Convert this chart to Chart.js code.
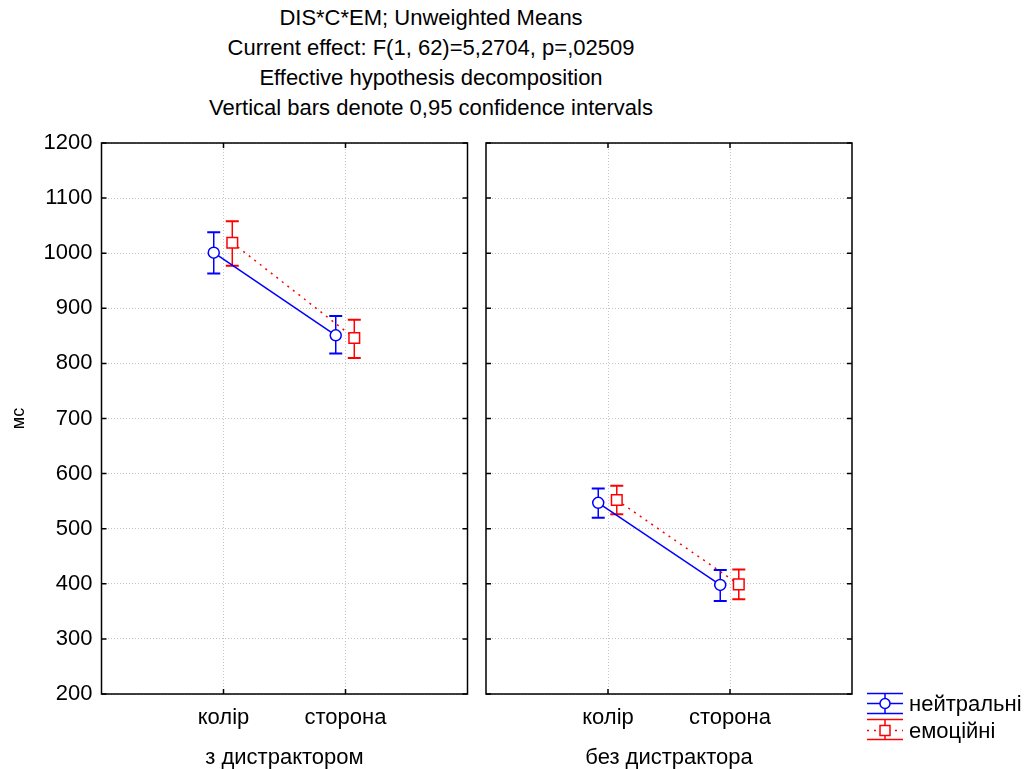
<!DOCTYPE html>
<html>
<head>
<meta charset="utf-8">
<script src="https://cdn.jsdelivr.net/npm/chart.js@4"></script>
<style>
  html, body { margin: 0; padding: 0; background: #fff; }
  #wrap { position: relative; width: 1025px; height: 769px; overflow: hidden;
          font-family: "Liberation Sans", Arial, sans-serif; color: #000; }
  canvas { position: absolute; top: 0; }
  #chartLeft { left: 0; }
  #chartRight { left: 476px; }
  #title { position: absolute; left: 0; top: 3px; width: 862px; text-align: center;
           font-size: 22px; line-height: 30px; }
  #legendSym { position: absolute; left: 862px; top: 688px; }
  .legText { position: absolute; left: 909px; font-size: 22px; line-height: 26px; white-space: nowrap; }
</style>
</head>
<body>
<div id="wrap">
  <div id="title">
    DIS*C*EM; Unweighted Means<br>
    Current effect: F(1, 62)=5,2704, p=,02509<br>
    Effective hypothesis decomposition<br>
    Vertical bars denote 0,95 confidence intervals
  </div>
  <canvas id="chartLeft" width="480" height="769"></canvas>
  <canvas id="chartRight" width="392" height="769"></canvas>
  <svg id="legendSym" width="46" height="60">
    <g stroke="#0000ff" stroke-width="1.5" fill="none">
      <line x1="5" y1="5.5" x2="41" y2="5.5"/>
      <line x1="5" y1="15.5" x2="41" y2="15.5"/>
      <line x1="5" y1="25.5" x2="41" y2="25.5"/>
      <line x1="23" y1="5.5" x2="23" y2="25.5"/>
      <circle cx="23" cy="15.5" r="5" fill="#fff"/>
    </g>
    <g stroke="#ff0000" stroke-width="1.5" fill="none">
      <line x1="5" y1="31.5" x2="41" y2="31.5"/>
      <line x1="5" y1="42.5" x2="41" y2="42.5" stroke-dasharray="2 5"/>
      <line x1="5" y1="51.5" x2="41" y2="51.5"/>
      <line x1="23" y1="31.5" x2="23" y2="51.5"/>
      <rect x="18" y="37.5" width="10" height="10" fill="#fff"/>
    </g>
  </svg>
  <div class="legText" style="top:691px">нейтральні</div>
  <div class="legText" style="top:718px">емоційні</div>
</div>
<script>
const categories = ['колір', 'сторона'];
const groups = ['з дистрактором', 'без дистрактора'];
const yTicksMin = 200, yTicksMax = 1200, yStep = 100;

// з дистрактором
const neutralWith = [1001, 851];
const neutralWithLo = [963, 818];
const neutralWithHi = [1038, 886];
const emoWith = [1019, 846];
const emoWithLo = [977, 810];
const emoWithHi = [1058, 879];

// без дистрактора
const neutralWithout = [547, 398];
const neutralWithoutLo = [520, 369];
const neutralWithoutHi = [573, 425];
const emoWithout = [552, 399];
const emoWithoutLo = [526, 372];
const emoWithoutHi = [578, 426];

const FONT = '"Liberation Sans", Arial, sans-serif';

function points(means, lo, hi, shift) {
  return means.map((m, i) => ({ x: i + 1 + shift, y: m, lo: lo[i], hi: hi[i] }));
}

// error bars + panel frame with inward ticks
const errorBars = {
  id: 'errorBars',
  beforeDatasetsDraw(chart) {
    const { ctx, chartArea: a, scales: { x, y } } = chart;
    ctx.save();
    ctx.strokeStyle = '#000';
    ctx.lineWidth = 1.5;
    ctx.strokeRect(a.left, a.top, a.right - a.left, a.bottom - a.top);
    ctx.beginPath();
    y.ticks.forEach(t => {
      const py = y.getPixelForValue(t.value);
      ctx.moveTo(a.left, py); ctx.lineTo(a.left + 5, py);
      ctx.moveTo(a.right, py); ctx.lineTo(a.right - 5, py);
    });
    x.ticks.forEach(t => {
      const px = x.getPixelForValue(t.value);
      ctx.moveTo(px, a.top); ctx.lineTo(px, a.top + 5);
      ctx.moveTo(px, a.bottom); ctx.lineTo(px, a.bottom - 5);
    });
    ctx.stroke();

    chart.data.datasets.forEach(ds => {
      ctx.strokeStyle = ds.borderColor;
      ds.data.forEach(p => {
        const px = x.getPixelForValue(p.x);
        const top = y.getPixelForValue(p.hi);
        const bot = y.getPixelForValue(p.lo);
        ctx.lineWidth = 1.5;
        ctx.beginPath();
        ctx.moveTo(px, top); ctx.lineTo(px, bot);
        ctx.stroke();
        ctx.lineWidth = 2;
        ctx.beginPath();
        ctx.moveTo(px - 6.5, top); ctx.lineTo(px + 6.5, top);
        ctx.moveTo(px - 6.5, bot); ctx.lineTo(px + 6.5, bot);
        ctx.stroke();
      });
    });
    ctx.restore();
  }
};

function makePanel(id, cfg) {
  return new Chart(document.getElementById(id), {
    type: 'line',
    data: {
      datasets: [
        {
          label: 'емоційні',
          data: points(cfg.emo, cfg.emoLo, cfg.emoHi, 0.072),
          borderColor: '#ff0000',
          backgroundColor: '#fff',
          borderWidth: 1.5,
          borderDash: [2, 5],
          pointStyle: 'rect',
          pointRadius: 7.5,
          pointBorderWidth: 1.5,
          pointBackgroundColor: '#fff'
        },
        {
          label: 'нейтральні',
          data: points(cfg.neutral, cfg.neutralLo, cfg.neutralHi, -0.08),
          borderColor: '#0000ff',
          backgroundColor: '#fff',
          borderWidth: 1.5,
          pointStyle: 'circle',
          pointRadius: 5.5,
          pointBorderWidth: 1.5,
          pointBackgroundColor: '#fff'
        }
      ]
    },
    options: {
      responsive: false,
      animation: false,
      events: [],
      layout: { padding: cfg.padding },
      plugins: {
        legend: { display: false },
        tooltip: { enabled: false }
      },
      scales: {
        x: {
          type: 'linear',
          min: 0,
          max: 3,
          afterBuildTicks: s => { s.ticks = categories.map((c, i) => ({ value: i + 1 })); },
          afterFit: s => { s.height = 75; },
          ticks: {
            callback: v => categories[v - 1],
            font: { family: FONT, size: 22, lineHeight: 1 },
            color: '#000',
            padding: 13,
            maxRotation: 0,
            autoSkip: false
          },
          grid: { color: '#c4c4c4', lineWidth: 1, drawTicks: false },
          border: { display: false, dash: [1, 2] },
          title: {
            display: true,
            text: cfg.group,
            font: { family: FONT, size: 22, lineHeight: 1 },
            color: '#000',
            padding: { top: 0, bottom: 0 }
          }
        },
        y: {
          min: yTicksMin,
          max: yTicksMax,
          afterFit: s => { s.width = cfg.yWidth; },
          ticks: {
            display: cfg.showY,
            stepSize: yStep,
            callback: v => String(v),
            font: { family: FONT, size: 22 },
            color: '#000',
            padding: 9
          },
          grid: { color: '#c4c4c4', lineWidth: 1, drawTicks: false },
          border: { display: false, dash: [1, 2] },
          title: {
            display: cfg.showY,
            text: 'мс',
            font: { family: FONT, size: 18 },
            color: '#000',
            padding: { top: 0, bottom: 0 }
          }
        }
      }
    },
    plugins: [errorBars]
  });
}

makePanel('chartLeft', {
  group: groups[0],
  showY: true,
  yWidth: 93.5,
  padding: { left: 8, top: 143, right: 12.5, bottom: 0 },
  neutral: neutralWith, neutralLo: neutralWithLo, neutralHi: neutralWithHi,
  emo: emoWith, emoLo: emoWithLo, emoHi: emoWithHi
});

makePanel('chartRight', {
  group: groups[1],
  showY: false,
  yWidth: 10,
  padding: { left: 0, top: 143, right: 16, bottom: 0 },
  neutral: neutralWithout, neutralLo: neutralWithoutLo, neutralHi: neutralWithoutHi,
  emo: emoWithout, emoLo: emoWithoutLo, emoHi: emoWithoutHi
});
</script>
</body>
</html>
